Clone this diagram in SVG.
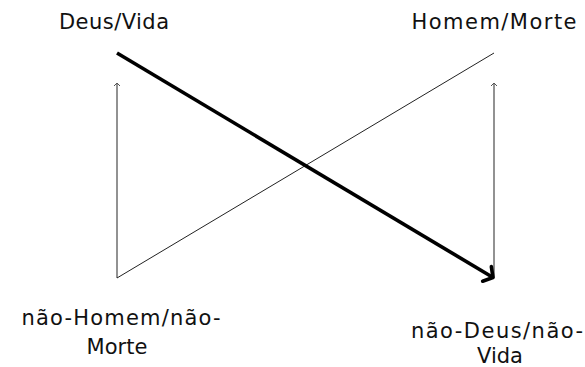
<svg xmlns="http://www.w3.org/2000/svg" width="585" height="367" viewBox="0 0 585 367">
<style>
.lbl{font-family:"DejaVu Sans","Liberation Sans",sans-serif;font-size:21px;fill:#111;text-anchor:middle}
.thick{stroke:#000;stroke-width:3.6;fill:none}
.thin{stroke:#222;stroke-width:1;fill:none}
.gray{stroke:#777;stroke-width:1.6;fill:none}
</style>
<defs>
<marker id="big" markerUnits="userSpaceOnUse" markerWidth="20" markerHeight="20" refX="0" refY="0" viewBox="-10 -10 20 20" orient="auto" overflow="visible">
<path d="M-7,-8.5 L0,0 L-7,8.5" stroke="#000" stroke-width="3.6" fill="none" stroke-linecap="round" stroke-linejoin="round"/>
</marker>
<marker id="small" markerUnits="userSpaceOnUse" markerWidth="10" markerHeight="10" refX="0" refY="0" viewBox="-5 -5 10 10" orient="auto" overflow="visible">
<path d="M-3,-3 L0,0 L-3,3" stroke="#555" stroke-width="1" fill="none"/>
</marker>
</defs>
<g id="connectors">
<line class="gray" x1="117" y1="278" x2="117" y2="83" marker-end="url(#small)"/>
<line class="gray" x1="494" y1="278" x2="494" y2="83" marker-end="url(#small)"/>
<line class="thin" x1="117" y1="278" x2="494" y2="53"/>
<line class="thick" x1="117" y1="53" x2="493" y2="277.5" marker-end="url(#big)"/>
</g>
<g id="deus-vida"><text class="lbl" x="114" y="29" textLength="110" lengthAdjust="spacing">Deus/Vida</text></g>
<g id="homem-morte"><text class="lbl" x="494" y="29" textLength="165" lengthAdjust="spacing">Homem/Morte</text></g>
<g id="nao-homem-nao-morte">
<text class="lbl" x="121" y="325" textLength="199" lengthAdjust="spacing">não-Homem/não-</text>
<text class="lbl" x="117" y="354">Morte</text>
</g>
<g id="nao-deus-nao-vida">
<text class="lbl" x="497" y="338" textLength="172" lengthAdjust="spacing">não-Deus/não-</text>
<text class="lbl" x="500" y="363">Vida</text>
</g>
</svg>
